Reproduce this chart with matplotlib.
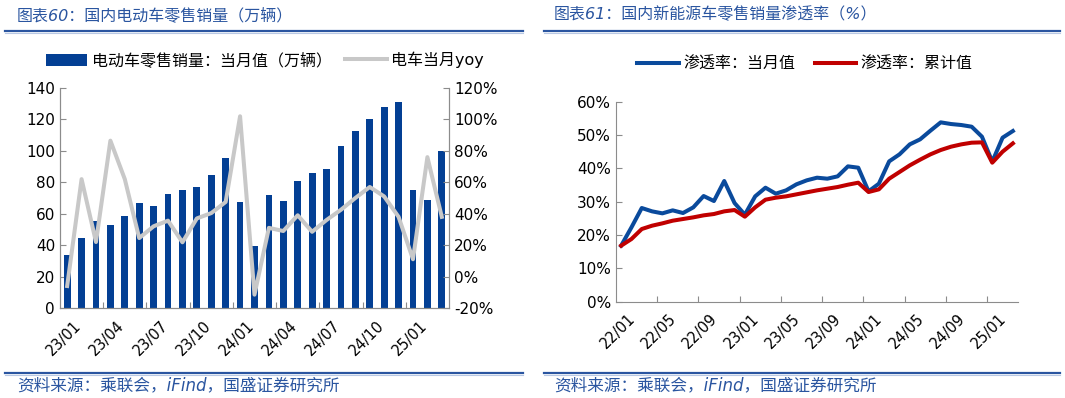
import matplotlib
matplotlib.use("Agg")
import matplotlib.pyplot as plt
from matplotlib.lines import Line2D

plt.rcParams['font.family'] = ['DejaVu Sans', 'Noto Sans CJK SC']

#############################
# DATA
#############################

# left chart: monthly NEV retail sales (10k units) and yoy (%)
months_l = ['23/01', '23/02', '23/03', '23/04', '23/05', '23/06', '23/07', '23/08', '23/09',
            '23/10', '23/11', '23/12', '24/01', '24/02', '24/03', '24/04', '24/05', '24/06',
            '24/07', '24/08', '24/09', '24/10', '24/11', '24/12', '25/01', '25/02', '25/03']
sales = [33.5, 44.3, 55.2, 53.0, 58.5, 67.0, 64.7, 72.3, 75.1, 77.0, 84.8, 95.5, 67.2, 39.2,
         71.9, 68.0, 80.8, 85.9, 88.5, 103.0, 112.8, 120.3, 127.7, 131.0, 74.9, 68.7, 99.7]
yoy = [-6, 62, 22, 86.5, 62, 24.5, 32, 35.6, 21.8, 37, 40.4, 47.5, 102, -11.5,
       31, 29, 39, 28.5, 36, 42.5, 50, 57, 51, 38, 11, 76, 38]

# right chart: NEV penetration rate (%)
months_r = ['22/01', '22/02', '22/03', '22/04', '22/05', '22/06', '22/07', '22/08', '22/09',
            '22/10', '22/11', '22/12', '23/01', '23/02', '23/03', '23/04', '23/05', '23/06',
            '23/07', '23/08', '23/09', '23/10', '23/11', '23/12', '24/01', '24/02', '24/03',
            '24/04', '24/05', '24/06', '24/07', '24/08', '24/09', '24/10', '24/11', '24/12',
            '25/01', '25/02', '25/03']
pen_month = [16.8, 22.3, 28.1, 27.1, 26.5, 27.4, 26.6, 28.3, 31.7, 30.2, 36.2, 29.6, 26.1,
             31.6, 34.2, 32.4, 33.4, 35.2, 36.4, 37.2, 36.9, 37.6, 40.6, 40.2, 33.1, 35.4,
             42.1, 44.2, 47.2, 48.7, 51.3, 53.8, 53.3, 53.0, 52.5, 49.5, 42.0, 49.2, 51.2]
pen_cum = [16.8, 18.8, 21.8, 22.8, 23.5, 24.3, 24.8, 25.3, 25.9, 26.3, 27.1, 27.5, 25.5,
           28.3, 30.6, 31.2, 31.6, 32.2, 32.8, 33.4, 33.9, 34.4, 35.1, 35.7, 32.9, 33.7,
           36.9, 38.9, 40.9, 42.6, 44.2, 45.5, 46.5, 47.2, 47.7, 47.8, 41.7, 45.0, 47.5]

#############################
# PLOT
#############################

BLUE = '#033f94'
HEAD = '#2a55a0'
AXC = '#8c8c8c'

fig = plt.figure(figsize=(10.65, 3.98), dpi=100)

# ---- left chart
ax1 = fig.add_axes([0.0563, 0.2261, 0.3653, 0.5528])
x1 = list(range(len(months_l)))
ax1.bar(x1, sales, width=0.47, color=BLUE, label='电动车零售销量：当月值（万辆）', zorder=2)
ax1.set_xlim(-0.5, len(months_l) - 0.5)
ax1.set_ylim(0, 140)
ax1.set_yticks(range(0, 141, 20))
ax2 = ax1.twinx()
ax2.plot(x1, yoy, color='#c8c8c8', lw=2.9, label='电车当月yoy', zorder=3)
ax2.set_ylim(-20, 120)
ax2.set_yticks(range(-20, 121, 20))
ax2.set_yticklabels([f'{v}%' for v in range(-20, 121, 20)])

ax1.set_xticks([i - 0.5 for i in range(3, len(months_l), 3)])
ax1.set_xticklabels([])
for i in range(0, len(months_l), 3):
    ax1.text(i + 0.45, -6.5, months_l[i], rotation=45, ha='right', va='top',
             rotation_mode='anchor', fontsize=10.5, transform=ax1.transData)

for a in (ax1, ax2):
    a.spines['top'].set_visible(False)
    for s in ('left', 'right', 'bottom'):
        a.spines[s].set_color(AXC)
    a.tick_params(direction='in', colors=AXC, labelcolor='black', labelsize=11, length=4)

h1, l1 = ax1.get_legend_handles_labels()
h2, l2 = ax2.get_legend_handles_labels()
ax1.legend(h1 + h2, l1 + l2, loc='center', bbox_to_anchor=(0.527, 1.127), ncol=2,
           frameon=False, fontsize=11.5, handlelength=2.6, handleheight=0.8,
           handletextpad=0.3, columnspacing=0.8)

# ---- right chart
ax3 = fig.add_axes([0.5784, 0.242, 0.3775, 0.5025])
x3 = list(range(len(months_r)))
ax3.plot(x3, pen_month, color='#0a4a9c', lw=2.9, label='渗透率：当月值')
ax3.plot(x3, pen_cum, color='#c00000', lw=2.9, label='渗透率：累计值')
ax3.set_xlim(-0.5, len(months_r) - 0.5)
ax3.set_ylim(0, 60)
ax3.set_yticks(range(0, 61, 10))
ax3.set_yticklabels([f'{v}%' for v in range(0, 61, 10)])
ax3.set_xticks([i - 0.5 for i in range(4, len(months_r), 4)])
ax3.set_xticklabels([])
for i in range(0, len(months_r), 4):
    ax3.text(i + 0.6, -2.7, months_r[i], rotation=45, ha='right', va='top',
             rotation_mode='anchor', fontsize=10.5)
for s in ('top', 'right'):
    ax3.spines[s].set_visible(False)
for s in ('left', 'bottom'):
    ax3.spines[s].set_color(AXC)
ax3.tick_params(direction='in', colors=AXC, labelcolor='black', labelsize=11, length=4)
ax3.legend(loc='center', bbox_to_anchor=(0.47, 1.19), ncol=2, frameon=False, fontsize=11.5,
           handlelength=2.6, handletextpad=0.3, columnspacing=1.2)

# ---- titles, rules, sources
fig.text(0.016, 0.963, '图表60：国内电动车零售销量（万辆）', color=HEAD, fontsize=11.5,
         ha='left', va='center', style='italic')
fig.text(0.520, 0.963, '图表61：国内新能源车零售销量渗透率（%）', color=HEAD, fontsize=11.5,
         ha='left', va='center', style='italic')
for x0, x1_ in ((0.005, 0.491), (0.511, 0.995)):
    fig.add_artist(Line2D([x0, x1_], [0.922, 0.922], color=HEAD, lw=1.6))
    fig.add_artist(Line2D([x0, x1_], [0.916, 0.916], color='#b8c8e4', lw=0.8))
    fig.add_artist(Line2D([x0, x1_], [0.063, 0.063], color=HEAD, lw=1.6))
    fig.add_artist(Line2D([x0, x1_], [0.057, 0.057], color='#b8c8e4', lw=0.8))
fig.text(0.016, 0.031, '资料来源：乘联会，iFind，国盛证券研究所', color=HEAD, fontsize=12,
         ha='left', va='center', style='italic')
fig.text(0.520, 0.031, '资料来源：乘联会，iFind，国盛证券研究所', color=HEAD, fontsize=12,
         ha='left', va='center', style='italic')

plt.savefig('out.png', dpi=100)
